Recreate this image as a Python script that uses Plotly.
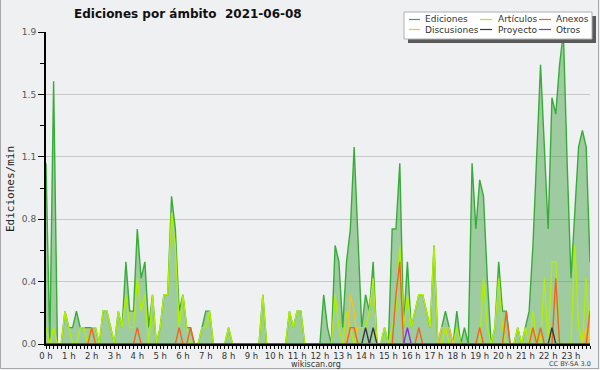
import plotly.graph_objects as go

# ---- data: edits per minute, 10-minute bins (6 per hour) ----
ediciones = [
    1.1, 0, 1.6, 0, 0, 0.2,
    0.1, 0.1, 0.2, 0.1, 0.1, 0.1,
    0.1, 0.1, 0, 0.2, 0.2, 0.1,
    0, 0.2, 0.1, 0.5, 0.2, 0.2,
    0.7, 0.4, 0.5, 0.1, 0.3, 0,
    0.1, 0.3, 0.3, 0.9, 0.7, 0.2,
    0.3, 0.1, 0.1, 0, 0, 0.1,
    0.2, 0.2, 0, 0, 0, 0,
    0.1, 0, 0, 0, 0, 0,
    0, 0, 0, 0.3, 0, 0,
    0, 0, 0, 0, 0.2, 0.1,
    0.2, 0.2, 0, 0, 0, 0,
    0, 0.3, 0.1, 0, 0.6, 0.5,
    0.1, 0.5, 0.7, 1.2, 0.6, 0.1,
    0.3, 0.2, 0.5, 0, 0, 0.1,
    0, 0.7, 0.7, 1.1, 0.1, 0.5,
    0.1, 0.2, 0.3, 0.3, 0.2, 0.1,
    0.6, 0, 0.1, 0.2, 0.1, 0,
    0.2, 0, 0.1, 0, 1.1, 0.7,
    1.0, 0.9, 0.4, 0, 0.1, 0.5,
    0.2, 0.2, 0, 0, 0.1, 0,
    0.1, 0.2, 0.6, 1.1, 1.7, 1.2,
    0.7, 1.5, 1.4, 1.7, 1.9, 1.1,
    0.4, 0.8, 1.2, 1.3, 1.2, 0.5,
]
articulos = [
    0.1, 0, 0.1, 0, 0, 0.2,
    0.1, 0, 0, 0.1, 0.1, 0,
    0.1, 0.1, 0, 0.2, 0.2, 0.1,
    0, 0.2, 0.1, 0.3, 0.1, 0.1,
    0.4, 0.2, 0.3, 0, 0.3, 0,
    0.1, 0.3, 0.3, 0.8, 0.6, 0.1,
    0.3, 0.1, 0, 0, 0, 0.1,
    0.1, 0.2, 0, 0, 0, 0,
    0.1, 0, 0, 0, 0, 0,
    0, 0, 0, 0.3, 0, 0,
    0, 0, 0, 0, 0.2, 0.1,
    0.2, 0.2, 0, 0, 0, 0,
    0, 0, 0, 0, 0.3, 0.1,
    0, 0.2, 0.1, 0, 0.1, 0.1,
    0.1, 0.2, 0.4, 0, 0, 0.1,
    0, 0.1, 0.2, 0.6, 0.1, 0.3,
    0.1, 0.2, 0.3, 0.3, 0.2, 0.1,
    0.6, 0, 0, 0.1, 0, 0,
    0.1, 0, 0, 0, 0, 0,
    0, 0.4, 0.1, 0, 0.1, 0.4,
    0.1, 0, 0, 0, 0.1, 0,
    0.1, 0, 0.2, 0, 0, 0.4,
    0, 0.5, 0.5, 0, 0, 0,
    0, 0.6, 0.1, 0, 0.4, 0,
]
anexos = [0.0] * 144
for i, v in [(12, 0.1), (24, 0.1), (35, 0.1), (38, 0.1), (80, 0.1), (81, 0.1),
             (92, 0.3), (93, 0.5), (98, 0.1), (114, 0.1), (121, 0.2),
             (128, 0.1), (130, 0.1), (134, 0.4), (143, 0.2)]:
    anexos[i] = v
discusiones = [0.0] * 144
for i, v in [(80, 0.3), (81, 0.2), (104, 0.1), (105, 0.1), (106, 0.1), (142, 0.1)]:
    discusiones[i] = v
proyecto = [0.0] * 144
for i, v in [(84, 0.1), (86, 0.1), (133, 0.1)]:
    proyecto[i] = v
otros = [0.0] * 144
for i, v in [(95, 0.1)]:
    otros[i] = v

hours = [i / 6 for i in range(144)]
hour_ticks = list(range(24))
hour_labels = [f"{h} h" for h in hour_ticks]
y_tickvals = [0, 0.38, 0.76, 1.14, 1.52, 1.9]
y_ticktext = ["0.0", "0.4", "0.8", "1.1", "1.5", "1.9"]
y_minor = [0.19, 0.57, 0.95, 1.33, 1.71]

series = [
    ("Ediciones", ediciones, "#38ac38"),
    ("Artículos", articulos, "#b2ee00"),
    ("Discusiones", discusiones, "#ffbf1a"),
    ("Anexos", anexos, "#f2641e"),
    ("Proyecto", proyecto, "#3a3a3a"),
    ("Otros", otros, "#8a2be2"),
]
legend_layout = [
    ("Ediciones", 0, 0), ("Artículos", 1, 0), ("Anexos", 2, 0),
    ("Discusiones", 0, 1), ("Proyecto", 1, 1), ("Otros", 2, 1),
]
colors = {n: c for n, _, c in series}

BG = "#eff0f2"
L, R, T, B, W, H = 46, 10, 32, 26, 600, 370
PW, PH = W - L - R, H - T - B


def X(px):
    return (px - L) / PW


def Y(py):
    return (H - B - py) / PH


fig = go.Figure()
for name, vals, col in series:
    if name == "Ediciones":
        fig.add_trace(go.Scatter(x=hours, y=vals, mode="lines", name=name,
                                 line=dict(color=col, width=1.4),
                                 fill="tozeroy", fillcolor="rgba(60,160,60,0.45)"))
    else:
        fig.add_trace(go.Scatter(x=hours, y=vals, mode="lines", name=name,
                                 line=dict(color=col, width=1.4)))

shapes = []
annotations = []
# legend (custom, with shadow)
shapes.append(dict(type="rect", xref="paper", yref="paper", x0=X(408), x1=X(596),
                   y0=Y(43), y1=Y(16), fillcolor="#5a5a5a", line=dict(width=0), layer="above"))
shapes.append(dict(type="rect", xref="paper", yref="paper", x0=X(404), x1=X(592),
                   y0=Y(39), y1=Y(12), fillcolor="#ffffff", line=dict(color="#b0b0b0", width=1),
                   layer="above"))
col_line_x = [(409, 420), (480, 492), (539, 551)]
col_text_x = [423, 496, 554]
row_y = [19.5, 29.5]
for name, c, r in legend_layout:
    x0, x1 = col_line_x[c]
    shapes.append(dict(type="line", xref="paper", yref="paper", x0=X(x0), x1=X(x1),
                       y0=Y(row_y[r]), y1=Y(row_y[r]), line=dict(color=colors[name], width=1.2),
                       layer="above"))
    annotations.append(dict(text=name, xref="paper", yref="paper", x=X(col_text_x[c]),
                            y=Y(row_y[r]), xanchor="left", yanchor="middle", showarrow=False,
                            font=dict(family="DejaVu Sans", size=9, color="#333333")))

# frame border
shapes.append(dict(type="line", xref="paper", yref="paper", x0=X(0.5), x1=X(0.5), y0=Y(0), y1=Y(368.5),
                   line=dict(color="#a8a8a8", width=1)))
shapes.append(dict(type="line", xref="paper", yref="paper", x0=X(0.5), x1=X(599), y0=Y(368.5), y1=Y(368.5),
                   line=dict(color="#a8a8a8", width=1)))
shapes.append(dict(type="line", xref="paper", yref="paper", x0=X(598.5), x1=X(598.5), y0=Y(0), y1=Y(368.5),
                   line=dict(color="#a8a8a8", width=1)))

annotations += [
    dict(text="<b>Ediciones por ámbito  2021-06-08</b>", xref="paper", yref="paper",
         x=X(188), y=Y(14), xanchor="center", yanchor="middle", showarrow=False,
         font=dict(family="DejaVu Sans", size=12, color="#111111")),
    dict(text="Ediciones/min", xref="paper", yref="paper", x=X(10), y=Y(189),
         xanchor="center", yanchor="middle", textangle=-90, showarrow=False,
         font=dict(family="DejaVu Sans Mono", size=11, color="#222222")),
    dict(text="wikiscan.org", xref="paper", yref="paper", x=X(316), y=Y(364),
         xanchor="center", yanchor="middle", showarrow=False,
         font=dict(family="DejaVu Sans", size=8, color="#333333")),
    dict(text="CC BY-SA 3.0", xref="paper", yref="paper", x=X(570), y=Y(364),
         xanchor="center", yanchor="middle", showarrow=False,
         font=dict(family="DejaVu Sans", size=6.5, color="#444444")),
]

fig.update_layout(
    width=W, height=H, margin=dict(l=L, r=R, t=T, b=B, pad=0),
    paper_bgcolor=BG, plot_bgcolor=BG, showlegend=False,
    shapes=shapes, annotations=annotations,
    xaxis=dict(range=[0, 143 / 6], tickmode="array", tickvals=hour_ticks, ticktext=hour_labels,
               tickangle=0,
               ticks="outside", ticklen=3, tickwidth=1, tickcolor="#000000",
               showline=True, linecolor="#000000", linewidth=2, showgrid=False, zeroline=False,
               tickfont=dict(family="DejaVu Sans", size=8.5, color="#333333"),
               minor=dict(dtick=1 / 6, tick0=0, ticks="outside", ticklen=3, tickcolor="#000000",
                          tickwidth=1, showgrid=False)),
    yaxis=dict(range=[0, 1.9], tickmode="array", tickvals=y_tickvals, ticktext=y_ticktext,
               ticks="outside", ticklen=6, tickwidth=1, tickcolor="#000000",
               showline=True, linecolor="#000000", linewidth=2, showgrid=True,
               gridcolor="#c9c9c9", gridwidth=1, zeroline=False,
               tickfont=dict(family="DejaVu Sans", size=9, color="#555555"),
               minor=dict(tickvals=y_minor, ticks="outside", ticklen=4, tickcolor="#000000",
                          tickwidth=1, showgrid=False)),
)

fig.write_html("out.html",
               config={"displayModeBar": False, "staticPlot": True},
               post_script="document.body.style.margin='0';document.body.style.overflow='hidden';")
